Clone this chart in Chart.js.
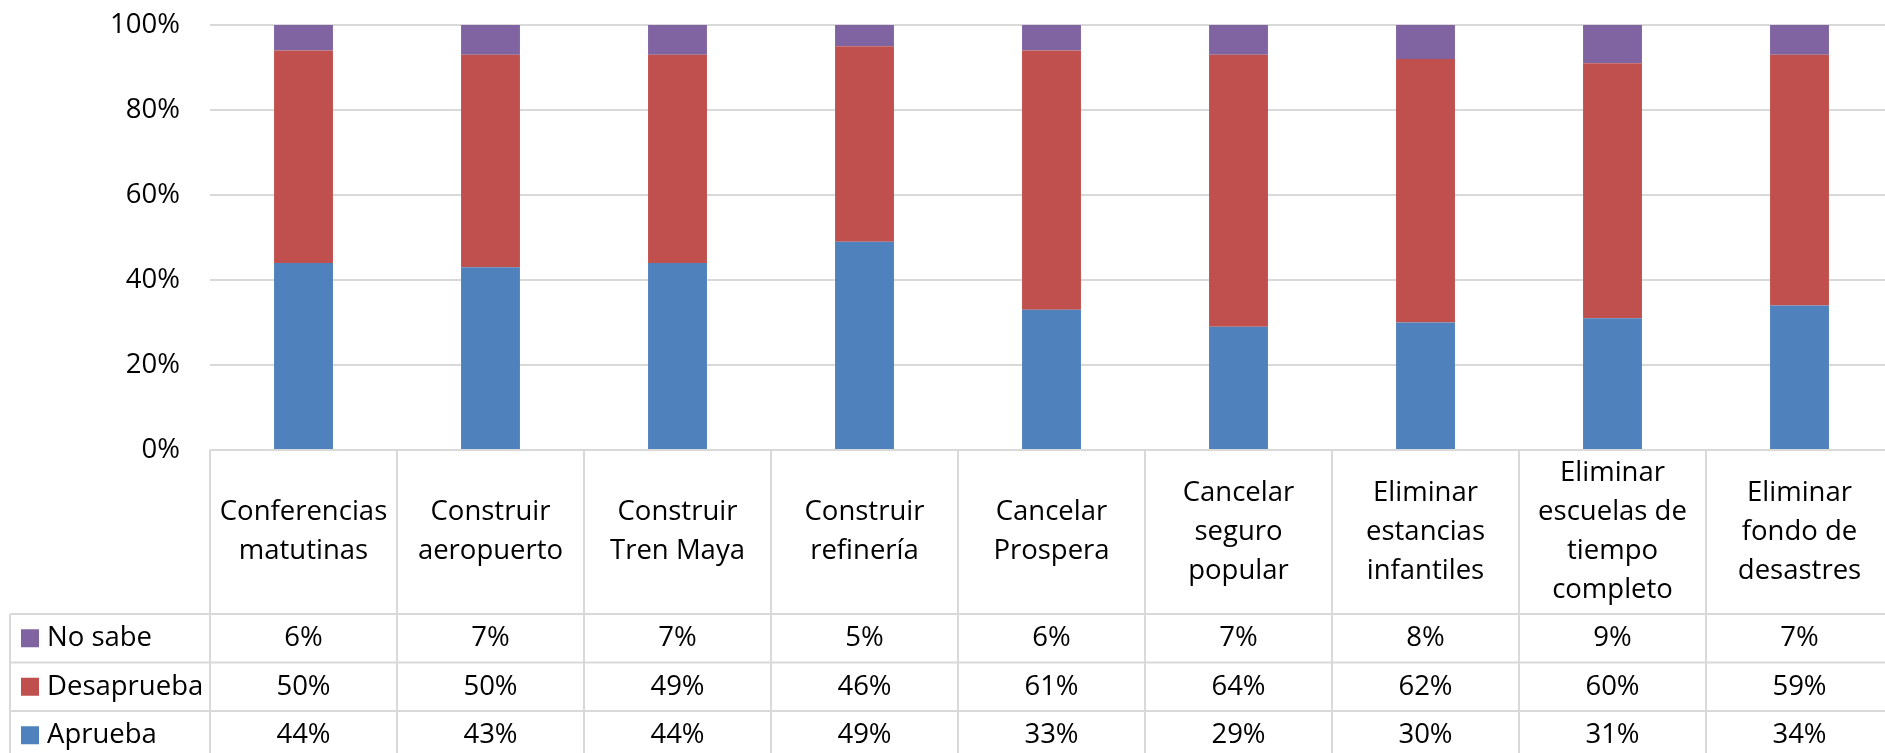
<!DOCTYPE html>
<html>
<head>
<meta charset="utf-8">
<script src="https://cdn.jsdelivr.net/npm/chart.js@4.4.1/dist/chart.umd.min.js"></script>
<style>
  html, body { margin: 0; padding: 0; background: #fff; overflow: hidden; }
  #wrap { position: relative; width: 1900px; height: 753px; }
</style>
</head>
<body>
<div id="wrap"><canvas id="chart"></canvas></div>
<script>
// categorías (líneas como en la tabla de datos)
const CATEGORIES = [
  ['Conferencias', 'matutinas'],
  ['Construir', 'aeropuerto'],
  ['Construir', 'Tren Maya'],
  ['Construir', 'refinería'],
  ['Cancelar', 'Prospera'],
  ['Cancelar', 'seguro', 'popular'],
  ['Eliminar', 'estancias', 'infantiles'],
  ['Eliminar', 'escuelas de', 'tiempo', 'completo'],
  ['Eliminar', 'fondo de', 'desastres'],
];

const APRUEBA    = [44, 43, 44, 49, 33, 29, 30, 31, 34];
const DESAPRUEBA = [50, 50, 49, 46, 61, 64, 62, 60, 59];
const NO_SABE    = [6, 7, 7, 5, 6, 7, 8, 9, 7];

const Y_TICKS = [0, 20, 40, 60, 80, 100];

const COLORS = {
  aprueba:    '#4f81bd',
  desaprueba: '#c0504d',
  noSabe:     '#8064a2',
};

const GRID = '#d9d9d9';
const FONT = '"Open Sans", "Liberation Sans", sans-serif';
const FONT_SIZE = 27.5;

// filas de la tabla (orden de arriba hacia abajo)
const TABLE_ROWS = [
  { label: 'No sabe',    data: NO_SABE,    color: COLORS.noSabe },
  { label: 'Desaprueba', data: DESAPRUEBA, color: COLORS.desaprueba },
  { label: 'Aprueba',    data: APRUEBA,    color: COLORS.aprueba },
];

// ── tabla de datos debajo del gráfico ────────────────────────
const dataTablePlugin = {
  id: 'dataTable',
  afterDraw(chart) {
    const { ctx, chartArea, scales } = chart;
    const x = scales.x;
    const n = CATEGORIES.length;
    const colW = (chartArea.right - chartArea.left) / n;
    const top = chartArea.bottom;
    const headH = 164;
    const rowH = 48.5;
    const legendLeft = 10;
    const bottom = chart.height + 10;

    ctx.save();
    ctx.strokeStyle = GRID;
    ctx.lineWidth = 2;

    // líneas horizontales
    ctx.beginPath();
    ctx.moveTo(chartArea.left, top);
    ctx.lineTo(chartArea.right, top);
    for (let r = 0; r < TABLE_ROWS.length; r++) {
      const y = top + headH + r * rowH;
      ctx.moveTo(legendLeft, y);
      ctx.lineTo(chartArea.right, y);
    }
    // líneas verticales
    ctx.moveTo(legendLeft, top + headH);
    ctx.lineTo(legendLeft, bottom);
    for (let i = 0; i <= n; i++) {
      const xx = chartArea.left + i * colW;
      ctx.moveTo(xx, top);
      ctx.lineTo(xx, bottom);
    }
    ctx.stroke();

    ctx.fillStyle = '#000';
    ctx.font = `${FONT_SIZE}px ${FONT}`;
    ctx.textAlign = 'center';
    ctx.textBaseline = 'middle';

    // encabezados de categoría
    const lineH = 39;
    CATEGORIES.forEach((lines, i) => {
      const cx = x.getPixelForValue(i);
      const cy = top + headH / 2;
      const y0 = cy - (lines.length - 1) * lineH / 2;
      lines.forEach((t, k) => ctx.fillText(t, cx, y0 + k * lineH));
    });

    // filas con valores
    TABLE_ROWS.forEach((row, r) => {
      const cy = top + headH + r * rowH + rowH / 2;
      ctx.fillStyle = row.color;
      ctx.fillRect(21, cy - 9, 18, 18);
      ctx.fillStyle = '#000';
      ctx.textAlign = 'left';
      ctx.fillText(row.label, 47, cy);
      ctx.textAlign = 'center';
      row.data.forEach((v, i) => {
        ctx.fillText(`${v}%`, x.getPixelForValue(i), cy);
      });
    });

    ctx.restore();
  },
};

new Chart(document.getElementById('chart'), {
  type: 'bar',
  data: {
    labels: CATEGORIES.map(l => l.join(' ')),
    datasets: [
      { label: 'Aprueba',    data: APRUEBA,    backgroundColor: COLORS.aprueba },
      { label: 'Desaprueba', data: DESAPRUEBA, backgroundColor: COLORS.desaprueba },
      { label: 'No sabe',    data: NO_SABE,    backgroundColor: COLORS.noSabe },
    ],
  },
  options: {
    responsive: true,
    maintainAspectRatio: false,
    animation: false,
    layout: { padding: { top: 25, bottom: 303, left: 0, right: 7 } },
    datasets: {
      bar: { categoryPercentage: 1, barPercentage: 0.315 },
    },
    plugins: {
      legend: { display: false },
      tooltip: { enabled: false },
    },
    scales: {
      x: {
        stacked: true,
        display: false,
      },
      y: {
        stacked: true,
        min: 0,
        max: 100,
        afterBuildTicks: scale => {
          scale.ticks = Y_TICKS.map(v => ({ value: v }));
        },
        afterFit: scale => {
          scale.width = 210;
          scale.paddingTop = 0;
          scale.paddingBottom = 0;
        },
        border: { display: false },
        grid: { color: GRID, lineWidth: 2, drawTicks: false },
        ticks: {
          padding: 30,
          color: '#000',
          font: { family: FONT, size: FONT_SIZE },
          callback: v => `${v}%`,
        },
      },
    },
  },
  plugins: [dataTablePlugin],
});
</script>
</body>
</html>
